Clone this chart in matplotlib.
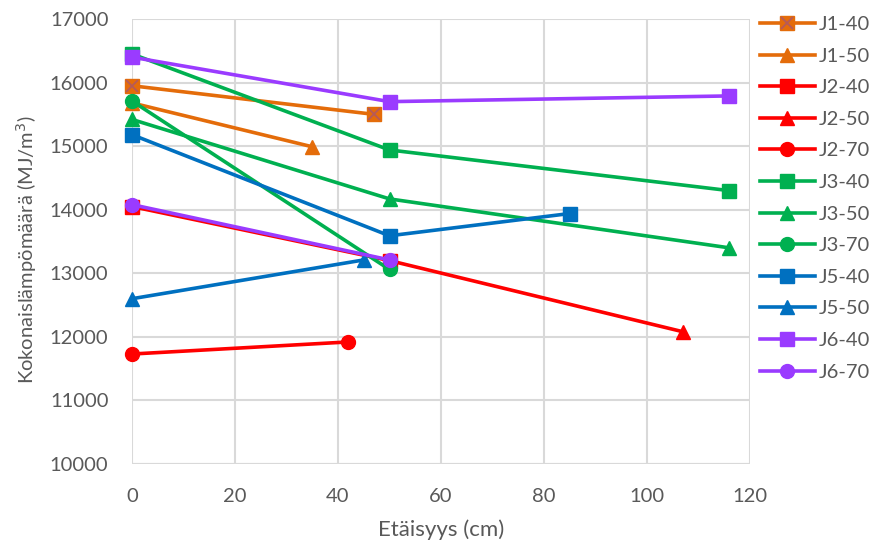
import matplotlib
matplotlib.use("Agg")
import matplotlib.pyplot as plt
from matplotlib.lines import Line2D

plt.rcParams['font.family'] = ['Lato', 'DejaVu Sans']

# Series data: distance (cm) and total heat amount (MJ/m3)
labels = ["J1-40", "J1-50", "J2-40", "J2-50", "J2-70", "J3-40",
          "J3-50", "J3-70", "J5-40", "J5-50", "J6-40", "J6-70"]
x_vals = [
    [0, 47],
    [0, 35],
    [0, 50],
    [50, 107],
    [0, 42],
    [0, 50, 116],
    [0, 50, 116],
    [0, 50],
    [0, 50, 85],
    [0, 45],
    [0, 50, 116],
    [0, 50],
]
y_vals = [
    [15950, 15500],
    [15680, 14990],
    [14050, 13200],
    [13200, 12080],
    [11730, 11920],
    [16450, 14940, 14300],
    [15420, 14170, 13400],
    [15710, 13060],
    [15180, 13590, 13940],
    [12600, 13210],
    [16400, 15700, 15790],
    [14080, 13210],
]

ORANGE = "#E46C0A"
RED = "#FF0000"
GREEN = "#00B050"
BLUE = "#0070C0"
PURPLE = "#9A3BFF"
colors = [ORANGE, ORANGE, RED, RED, RED, GREEN, GREEN, GREEN,
          BLUE, BLUE, PURPLE, PURPLE]
markers = ["s", "^", "s", "^", "o", "s", "^", "o", "s", "^", "s", "o"]
msizes = [10, 10.5, 10, 10.5, 10, 10, 10.5, 10, 10, 10.5, 10, 10]

TEXT = "#595959"
GRID = "#D9D9D9"
FS_TICK = 14.5

fig = plt.figure(figsize=(8.75, 5.47), dpi=100)
ax = fig.add_axes([132 / 875, 1 - 464 / 547, 618 / 875, 445 / 547])

handles = []
for i, (lab, xs, ys, c, m, ms) in enumerate(zip(labels, x_vals, y_vals,
                                                 colors, markers, msizes)):
    z = 3 + i
    ax.plot(xs, ys, color=c, lw=2.6, marker=m, ms=ms, mfc=c, mec=c,
            solid_capstyle="round", zorder=z, clip_on=False)
    if lab == "J1-40":
        ax.plot(xs, ys, ls="none", marker="x", ms=8, mew=1.3,
                color="#B55A5A", zorder=z + 0.5, clip_on=False)
        h = (Line2D([], [], color=c, lw=2.6, marker=m, ms=ms, mfc=c, mec=c),
             Line2D([], [], ls="none", marker="x", ms=8, mew=1.3,
                    color="#B55A5A"))
    else:
        h = Line2D([], [], color=c, lw=2.6, marker=m, ms=ms, mfc=c, mec=c)
    handles.append(h)

ax.set_xlim(0, 120)
ax.set_ylim(10000, 17000)
ax.set_xticks(range(0, 121, 20))
ax.set_yticks(range(10000, 17001, 1000))
ax.grid(True, color=GRID, lw=1.5, zorder=0)
ax.set_axisbelow(True)
for s in ax.spines.values():
    s.set_visible(False)
ax.axhline(10000, color=GRID, lw=1.5, zorder=1)
ax.tick_params(length=0, labelsize=FS_TICK, colors=TEXT, pad=17)

fig.text(441 / 875, 1 - 530 / 547, "Etäisyys (cm)", fontsize=16,
         color=TEXT, ha="center", va="center")
fig.text(27 / 875, 1 - 250 / 547, "Kokonaislämpömäärä (MJ/m$^3$)",
         fontsize=14.5, color=TEXT, ha="center", va="center",
         rotation=90)

leg = fig.legend(handles, labels, loc="upper left",
                 bbox_to_anchor=(760 / 875, 1 - 16 / 547),
                 frameon=False, fontsize=FS_TICK, handlelength=2.73,
                 handletextpad=0.2, labelspacing=0.72, borderaxespad=0,
                 borderpad=0)
for t in leg.get_texts():
    t.set_color(TEXT)

fig.savefig("out.png", dpi=100)
